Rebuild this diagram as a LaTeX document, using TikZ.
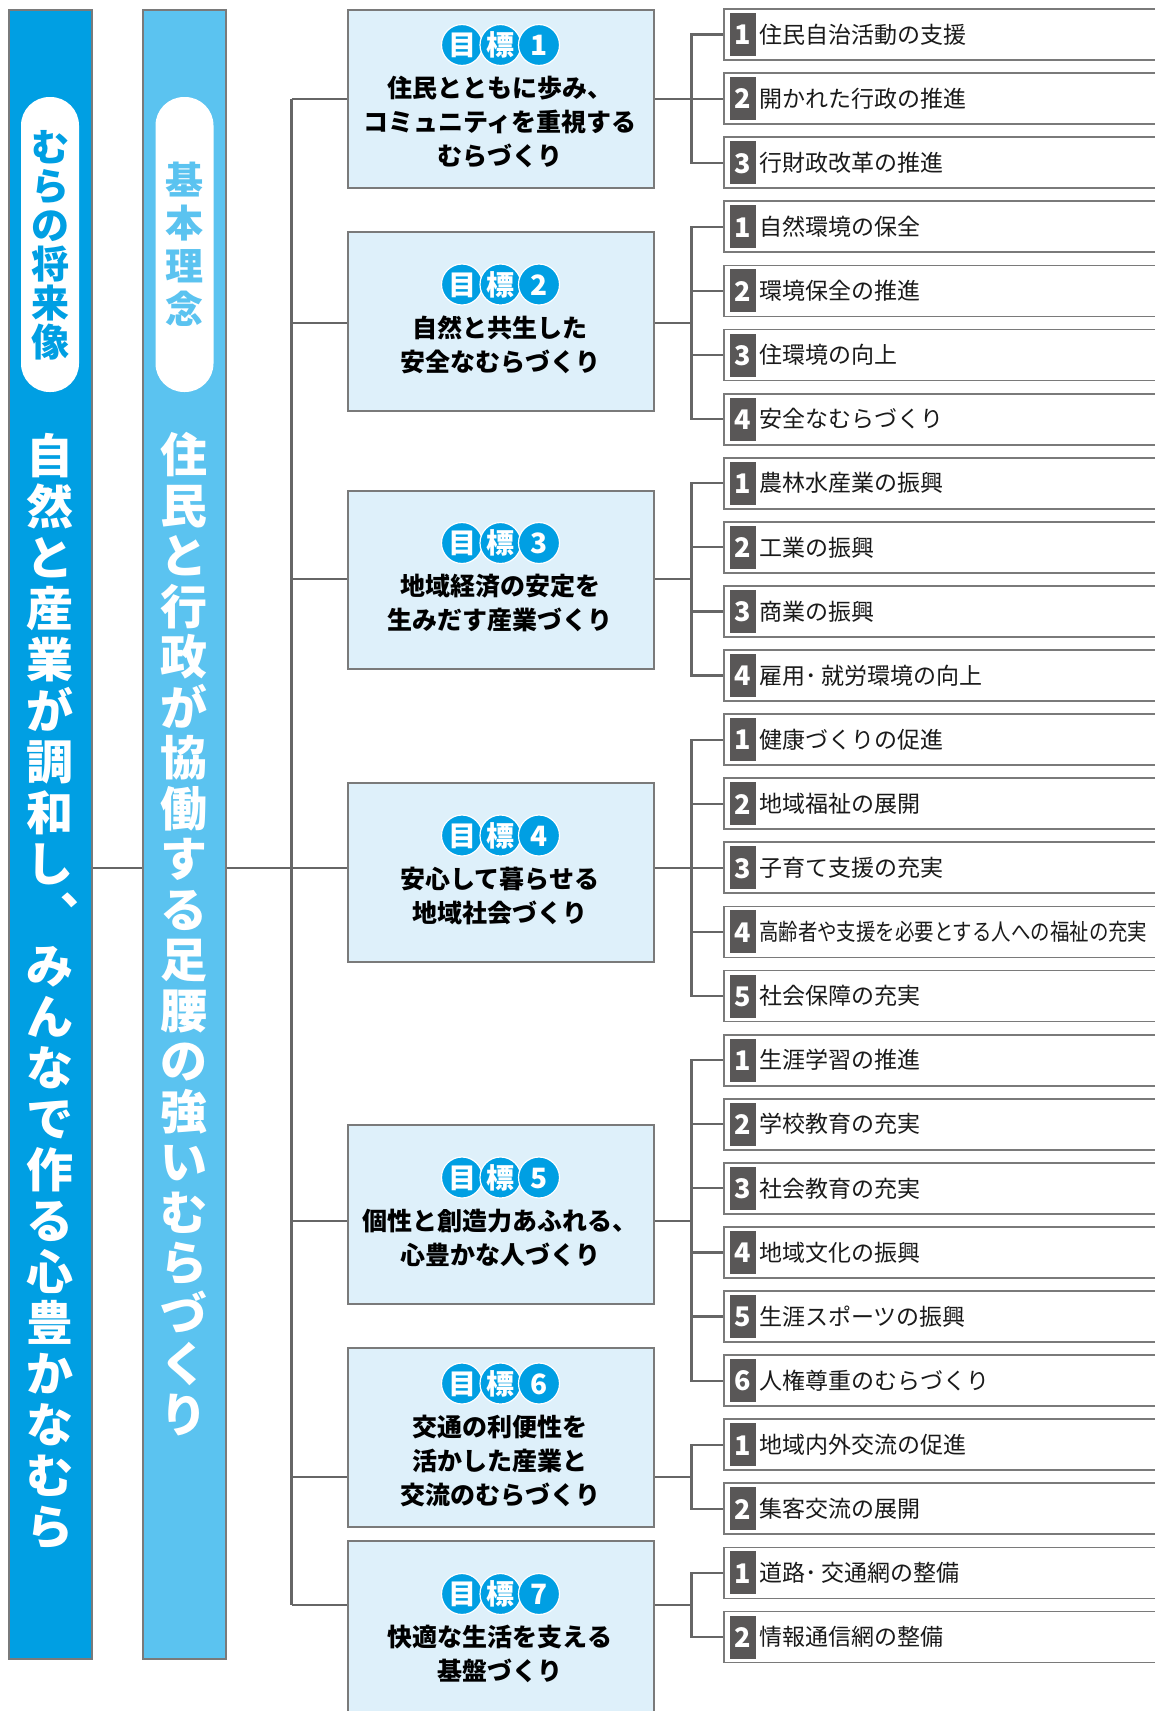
\documentclass[tikz,border=0pt]{standalone}
\usepackage{fontspec}
\setmainfont{Noto Sans CJK JP}
\usetikzlibrary{calc}
\definecolor{barA}{HTML}{009FE3}
\definecolor{barB}{HTML}{5BC3F0}
\definecolor{goalfill}{HTML}{DEF0FA}
\definecolor{boxline}{HTML}{7A7A7A}
\definecolor{connc}{HTML}{666666}
\definecolor{numgray}{HTML}{595757}
\definecolor{txt}{HTML}{1A1A1A}

\newcommand\goal[5]{%
  \node[goalbox, minimum height={#3-#2}] (g#1) at (347,#2) {};
  \pgfmathsetmacro\by{(#2+#3)/2-17*(#4-1)-19}
  \node[badge] (g#1x) at (462,\by) {目};
  \node[badge] (g#1y) at (500.5,\by) {標};
  \node[badge] (g#1z) at (539,\by) {#1};
  \foreach \l [count=\k] in {#5} \node[goaltext] (g#1t\k) at (500,{\by+43+34*(\k-1)}) {\l};
}
\newcommand\items[3]{%
  \foreach \t [count=\k] in {#3} {
    \pgfmathsetmacro\cy{34.5+64.1*(#2+\k-1)}
    \node[itembox] (it#1-\k) at (723,\cy) {};
    \node[numsq] (nq#1-\k) at (742.5,\cy) {\k};
    \node[itemtext] (tx#1-\k) at (759,\cy) {\t};
    \draw[conn] (it#1-\k.west) -| (b#1);
  }
}

\begin{document}
\begin{tikzpicture}[x=1pt,y=-1pt,
  barstyle/.style={draw=boxline,line width=1.5pt,inner sep=0,anchor=north west,minimum width=83,minimum height=1649},
  pill/.style={fill=white,rounded corners=28.5,inner sep=0,minimum width=58,minimum height=295},
  vchar/.style={text=white,inner sep=0,font=\fontsize{47}{47}\selectfont\bfseries,text height=41.4pt,text depth=5.6pt},
  pchar/.style={inner sep=0,font=\fontsize{38}{38}\selectfont\bfseries,text height=33.4pt,text depth=4.6pt},
  goalbox/.style={draw=boxline,fill=goalfill,line width=1.8pt,anchor=north west,minimum width=306,inner sep=0},
  badge/.style={circle,fill=barA,draw=white,line width=1.2pt,minimum size=41,inner sep=0,text=white,
    font=\fontsize{28}{28}\selectfont\bfseries,text height=24.6pt,text depth=3.4pt},
  goaltext/.style={inner sep=0,text=black,font=\fontsize{25}{25}\selectfont\bfseries,text height=22pt,text depth=3pt},
  itembox/.style={draw=boxline,fill=white,line width=1.8pt,anchor=west,minimum width=470,minimum height=51,inner sep=0},
  numsq/.style={fill=numgray,minimum width=26,minimum height=43,inner sep=0,text=white,
    font=\fontsize{27}{27}\selectfont\bfseries,text height=23.8pt,text depth=3.2pt},
  itemtext/.style={anchor=west,inner sep=0,text=txt,font=\fontsize{23}{23}\selectfont,text height=20.2pt,text depth=2.8pt},
  conn/.style={draw=connc,line width=2.2pt}
]
\clip (0,0) rectangle (1155,1711);
\fill[white] (0,0) rectangle (1155,1711);

% left bars
\node[barstyle,fill=barA] (barA) at (8,9) {};
\node[barstyle,fill=barB] (barB) at (142,9) {};
\node[pill] (pillA) at (50,244.5) {};
\node[pill] (pillB) at (184.5,244.5) {};
\foreach \c [count=\k] in {む,ら,の,将,来,像}
  \node[pchar,text=barA] (pa\k) at (50,{244.5+39*(\k-3.5)}) {\c};
\foreach \c [count=\k] in {基,本,理,念}
  \node[pchar,text=barB] (pb\k) at (184.5,{244.5+43*(\k-2.5)}) {\c};

\foreach \c [count=\k] in {自,然,と,産,業,が,調,和,し}
  \node[vchar] (va\k) at (49.5,{456+51*(\k-1)}) {\c};
\node[vchar] (va10) at (56,915) {︑};
\foreach \c [count=\k] in {み,ん,な,で,作,る,心,豊,か,な,む,ら}
  \node[vchar] (vc\k) at (49.5,{456+51*(\k+9)}) {\c};
\foreach \c [count=\k] in {住,民,と,行,政,が,協,働,す,る,足,腰,の,強,い,む,ら,づ,く,り}
  \node[vchar] (vb\k) at (183.5,{455+50.5*(\k-1)}) {\c};

% coordinates for connectors
\foreach \i/\m in {1/98.6,2/322.9,3/579.2,4/867.8,5/1220.6,6/1476.8,7/1605} {
  \coordinate (t\i) at (291.5,\m);
  \coordinate (b\i) at (691.5,\m);
}

% goals
\goal{1}{9}{187}{3}{住民とともに歩み、,コミュニティを重視する,むらづくり}
\goal{2}{231}{410}{2}{自然と共生した,安全なむらづくり}
\goal{3}{490}{668}{2}{地域経済の安定を,生みだす産業づくり}
\goal{4}{782}{961}{2}{安心して暮らせる,地域社会づくり}
\goal{5}{1124}{1303}{2}{個性と創造力あふれる、,心豊かな人づくり}
\goal{6}{1347}{1526}{3}{交通の利便性を,活かした産業と,交流のむらづくり}
\goal{7}{1540}{1720}{2}{快適な生活を支える,基盤づくり}

% trunk connectors
\draw[conn] (barA.east |- t4) -- (barB.west |- t4);
\draw[conn] (barB.east |- t4) -- (t4);
\draw[conn] (t1) -- (t7);
\foreach \i in {1,...,7} {
  \draw[conn] (t\i) -- (g\i.west |- t\i);
  \draw[conn] (g\i.east |- b\i) -- (b\i);
}

% items
\items{1}{0}{住民自治活動の支援,開かれた行政の推進,行財政改革の推進}
\items{2}{3}{自然環境の保全,環境保全の推進,住環境の向上,安全なむらづくり}
\items{3}{7}{農林水産業の振興,工業の振興,商業の振興,雇用･\hspace{5pt}就労環境の向上}
\items{4}{11}{健康づくりの促進,地域福祉の展開,子育て支援の充実,{\scalebox{0.845}[1]{高齢者や支援を必要とする人への福祉の充実}},社会保障の充実}
\items{5}{16}{生涯学習の推進,学校教育の充実,社会教育の充実,地域文化の振興,生涯スポーツの振興,人権尊重のむらづくり}
\items{6}{22}{地域内外交流の促進,集客交流の展開}
\items{7}{24}{道路･\hspace{5pt}交通網の整備,情報通信網の整備}
\end{tikzpicture}
\end{document}
